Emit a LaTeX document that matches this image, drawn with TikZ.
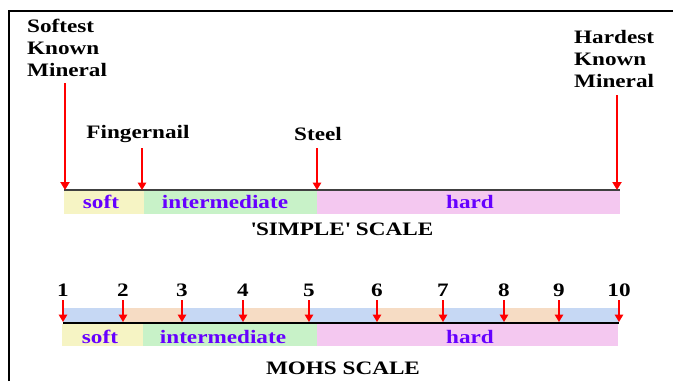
\documentclass[tikz,border=0pt]{standalone}
\usepackage{fontspec}
\setmainfont{Liberation Serif}[FakeStretch=1.22]
\usetikzlibrary{arrows.meta}
\definecolor{softc}{RGB}{246,244,196}
\definecolor{interc}{RGB}{200,242,200}
\definecolor{hardc}{RGB}{244,200,240}
\definecolor{bandblue}{RGB}{198,216,244}
\definecolor{bandpeach}{RGB}{246,220,196}
\definecolor{zonetext}{RGB}{102,0,255}
\definecolor{pointer}{RGB}{255,0,0}
\tikzset{
  lbl/.style={font=\bfseries\fontsize{19}{22}\selectfont, inner sep=0pt, align=left},
  zone/.style={font=\bfseries\fontsize{19}{22}\selectfont, text=zonetext, inner sep=0pt},
  title/.style={font=\bfseries\fontsize{19}{22}\selectfont, inner sep=0pt},
  num/.style={font=\bfseries\fontsize{19}{22}\selectfont, inner sep=0pt},
  bigarrow/.style={draw=pointer, line width=2.4pt, -{Triangle[width=9pt,length=8pt]}},
  smallarrow/.style={draw=pointer, line width=1.6pt, -{Triangle[width=8.5pt,length=7.5pt]}},
}
\begin{document}
\begin{tikzpicture}[x=1pt,y=-1pt]
\useasboundingbox (0,0) rectangle (673,381);
% frame
\draw[line width=2.5pt] (9,381) -- (9,11) -- (673,11);

% ---- simple scale ----
\fill[softc]  (64,191) rectangle (144,214);
\fill[interc] (144,191) rectangle (317,214);
\fill[hardc]  (317,191) rectangle (620,214);
\draw[line width=1.3pt, black!75] (64,190) -- (620,190);
\node[zone] (ss) at (101,202) {soft};
\node[zone] (si) at (225,202) {intermediate};
\node[zone] (sh) at (470,202) {hard};
\node[title] (st) at (342,229) {\textquotesingle SIMPLE\textquotesingle\ SCALE};

\node[lbl, anchor=north west] (softest) at (27,19) {Softest\\Known\\Mineral};
\node[lbl, anchor=north west] (hardest) at (574,30) {Hardest\\Known\\Mineral};
\node[lbl] (nail) at (138,134) {Fingernail};
\node[lbl] (steel) at (318,134) {Steel};

\coordinate (a1top) at (65,83);   \coordinate (a1) at (65,190);
\coordinate (a2top) at (142,148); \coordinate (a2) at (142,190);
\coordinate (a3top) at (317,148); \coordinate (a3) at (317,190);
\coordinate (a4top) at (617,95);  \coordinate (a4) at (617,190);
\draw[bigarrow] (a1top) -- (a1);
\draw[smallarrow] (a2top) -- (a2);
\draw[smallarrow] (a3top) -- (a3);
\draw[bigarrow] (a4top) -- (a4);

% ---- Mohs scale ----
\foreach \xa/\xb/\c in {63/122/bandblue,122/182/bandpeach,182/244/bandblue,
    244/309/bandpeach,309/376/bandblue,376/443/bandpeach,443/505/bandblue,
    505/559/bandpeach,559/619/bandblue}
  \fill[\c] (\xa,308) rectangle (\xb,322);
\fill[softc]  (62,324) rectangle (143,346);
\fill[interc] (143,324) rectangle (317,346);
\fill[hardc]  (317,324) rectangle (618,346);
\draw[line width=2pt] (63,323) coordinate (mleft) -- (619,323) coordinate (mright);
\node[zone] (ms) at (100,337) {soft};
\node[zone] (mi) at (223,337) {intermediate};
\node[zone] (mh) at (470,337) {hard};
\node[title] (mt) at (343,368) {MOHS SCALE};

\foreach \n/\x in {1/63,2/123,3/182,4/243,5/309,6/377,7/443,8/504,9/559,10/619} {
  \node[num] (n\n) at (\x,290) {\n};
  \coordinate (t\n) at (\x,300);
  \coordinate (b\n) at (\x,322);
  \draw[smallarrow] (t\n) -- (b\n);
}
\end{tikzpicture}
\end{document}
